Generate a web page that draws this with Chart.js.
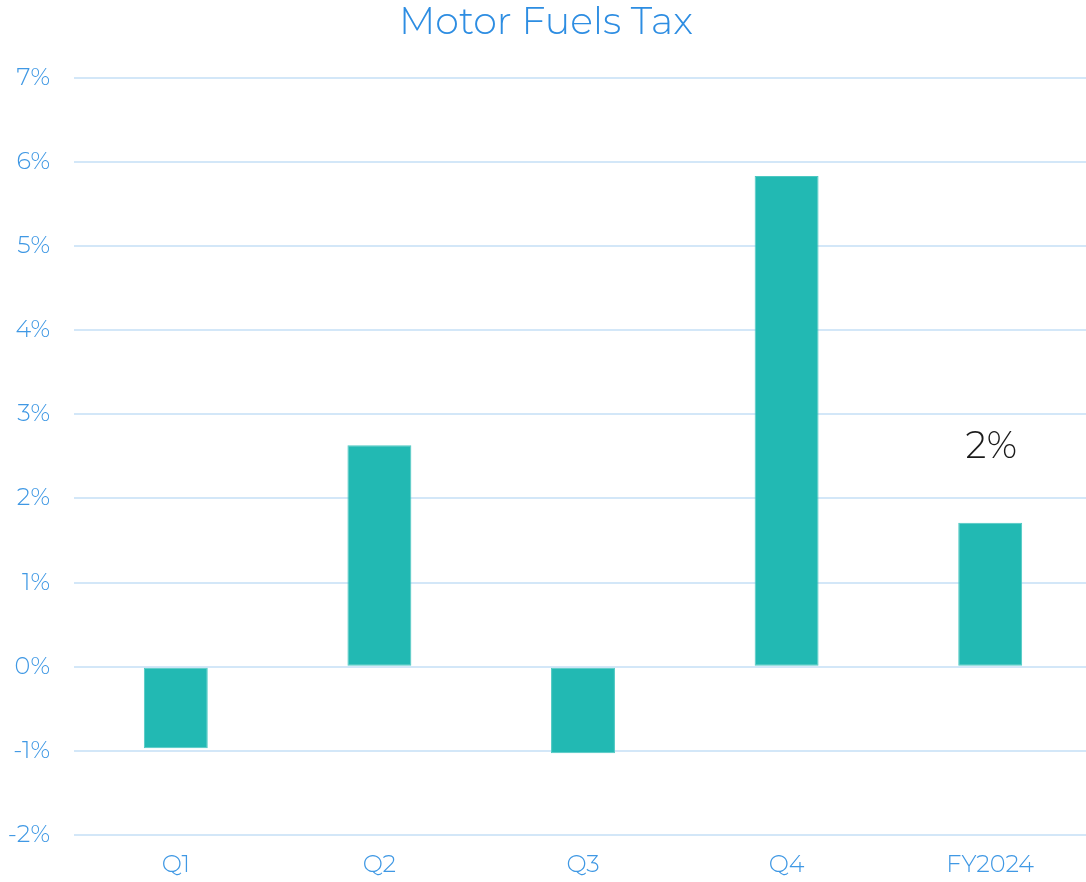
<!DOCTYPE html>
<html>
<head>
<meta charset="utf-8">
<script src="https://cdn.jsdelivr.net/npm/chart.js@4"></script>
<style>
  html, body { margin: 0; padding: 0; background: #fff; overflow: hidden; }
  #wrap { width: 1092px; height: 882px; }
</style>
</head>
<body>
<div id="wrap"><canvas id="chart"></canvas></div>
<script>
const categories = ["Q1", "Q2", "Q3", "Q4", "FY2024"];
const growth = [-0.97, 2.63, -1.03, 5.83, 1.71];
const yTicks = [-2, -1, 0, 1, 2, 3, 4, 5, 6, 7];
const labelIndex = 4;

const FONT = "Montserrat, 'DejaVu Sans', sans-serif";

// draws the rounded total above the FY bar
const totalLabel = {
  id: "totalLabel",
  afterDatasetsDraw(chart) {
    const bar = chart.getDatasetMeta(0).data[labelIndex];
    if (!bar) return;
    const ctx = chart.ctx;
    ctx.save();
    ctx.font = `300 37px ${FONT}`;
    ctx.fillStyle = "#1a1a1a";
    ctx.textAlign = "center";
    ctx.textBaseline = "middle";
    ctx.fillText(`${Math.round(growth[labelIndex])}%`, bar.x + 1, bar.y - 76);
    ctx.restore();
  }
};

new Chart(document.getElementById("chart"), {
  type: "bar",
  data: {
    labels: categories,
    datasets: [{
      data: growth,
      backgroundColor: "#22b9b3",
      borderColor: "#4cc8c2",
      borderWidth: 1,
      borderSkipped: false,
      barPercentage: 0.314,
      categoryPercentage: 1
    }]
  },
  options: {
    responsive: true,
    maintainAspectRatio: false,
    animation: false,
    layout: { padding: { left: 0, right: 0, top: 0, bottom: 2 } },
    plugins: {
      legend: { display: false },
      tooltip: { enabled: false },
      title: {
        display: true,
        text: "Motor Fuels Tax",
        color: "#2d8de2",
        font: { family: FONT, size: 38, weight: 300 },
        padding: { top: 0, bottom: 32 }
      }
    },
    scales: {
      x: {
        grid: { display: false, drawTicks: false },
        border: { display: false },
        afterFit(axis) { axis.height = 45; },
        ticks: {
          color: "#3f98e4",
          font: { family: FONT, size: 24, weight: 300 },
          padding: 16
        }
      },
      y: {
        min: yTicks[0],
        max: yTicks[yTicks.length - 1],
        afterBuildTicks(axis) {
          axis.ticks = yTicks.map((v) => ({ value: v }));
        },
        afterFit(axis) { axis.width = 74; },
        grid: { color: "#d3e7f8", lineWidth: 2, drawTicks: false },
        border: { display: false },
        ticks: {
          color: "#3f98e4",
          font: { family: FONT, size: 24, weight: 300 },
          padding: 24,
          callback(value) { return `${value}%`; }
        }
      }
    }
  },
  plugins: [totalLabel]
});
</script>
</body>
</html>
